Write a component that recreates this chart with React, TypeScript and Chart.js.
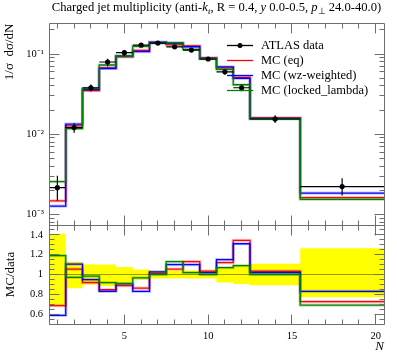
import React, { useEffect, useRef } from 'react';
import { Chart, registerables } from 'chart.js';

Chart.register(...registerables);

const FONT = "'Liberation Serif', 'Times New Roman', serif";
const AXIS_COLOUR = '#6e6e6e';

// ---- binning ----
const binEdges = [0.5, 1.5, 2.5, 3.5, 4.5, 5.5, 6.5, 7.5, 8.5, 9.5, 10.5, 11.5, 12.5, 15.5, 20.5];
const binCentres = [1, 2, 3, 4, 5, 6, 7, 8, 9, 10, 11, 12, 14, 18];

// ---- ATLAS data ----
const atlasData = [2.16e-3, 0.0121, 0.038, 0.0795, 0.104, 0.129, 0.137, 0.123, 0.112, 0.0867, 0.060, 0.038, 0.0155, 2.23e-3];
const atlasErrUp = [8.9e-4, 1.57e-3, 3.8e-3, 8.0e-3, 7.8e-3, 6.5e-3, 5.5e-3, 4.9e-3, 4.5e-3, 3.5e-3, 4.5e-3, 3.4e-3, 1.7e-3, 5.9e-4];
const atlasErrDown = [6.9e-4, 1.69e-3, 3.8e-3, 9.5e-3, 1.04e-2, 6.5e-3, 5.5e-3, 4.9e-3, 4.5e-3, 3.5e-3, 4.8e-3, 3.6e-3, 1.7e-3, 5.1e-4];

// ---- MC predictions ----
const mcEq = [1.48e-3, 0.01275, 0.03488, 0.06726, 0.09225, 0.1113, 0.1384, 0.1296, 0.1266, 0.0896, 0.0672, 0.0511, 0.01603, 1.62e-3];
const mcWz = [1.27e-3, 0.01337, 0.03606, 0.06599, 0.09443, 0.1071, 0.1407, 0.1353, 0.1232, 0.0884, 0.069, 0.0498, 0.01581, 1.85e-3];
const mcLocked = [2.57e-3, 0.01174, 0.03735, 0.07298, 0.09443, 0.1245, 0.137, 0.139, 0.1142, 0.0867, 0.0642, 0.0414, 0.0155, 1.54e-3];

const seriesLabels = ['ATLAS data', 'MC (eq)', 'MC (wz-weighted)', 'MC (locked_lambda)'];
const seriesColours = ['#000000', '#ff0000', '#0000ff', '#008000'];
const seriesBandColours = ['rgba(0,0,0,0)', 'rgba(255,0,0,0.22)', 'rgba(0,0,255,0.22)', 'rgba(0,128,0,0.22)'];

// ---- ticks ----
const xTickValues = [1, 2, 3, 4, 5, 6, 7, 8, 9, 10, 11, 12, 13, 14, 15, 16, 17, 18, 19, 20];
const xLabelValues = [5, 10, 15, 20];
const xLabelTexts = ['5', '10', '15', '20'];

const mainYTickValues = [8e-4, 9e-4, 1e-3, 2e-3, 3e-3, 4e-3, 5e-3, 6e-3, 7e-3, 8e-3, 9e-3, 1e-2, 2e-2, 3e-2, 4e-2, 5e-2, 6e-2, 7e-2, 8e-2, 9e-2, 1e-1, 2e-1];
const mainYLabelValues = [1e-3, 1e-2, 1e-1];
const mainYLabelTexts = ['10\u207B\u00B3', '10\u207B\u00B2', '10\u207B\u00B9'];

const ratioYTickValues = [0.5, 0.55, 0.6, 0.65, 0.7, 0.75, 0.8, 0.85, 0.9, 0.95, 1.0, 1.05, 1.1, 1.15, 1.2, 1.25, 1.3, 1.35, 1.4, 1.45, 1.5];
const ratioYLabelValues = [0.6, 0.8, 1.0, 1.2, 1.4];
const ratioYLabelTexts = ['0.6', '0.8', '1', '1.2', '1.4'];

const findLabel = (v: number, vals: number[], texts: string[]) => {
  const i = vals.findIndex((lv) => Math.abs(v - lv) <= Math.abs(lv) * 1e-6);
  return i >= 0 ? texts[i] : '';
};

const stepPoints = (vals: number[]) =>
  binEdges.map((e, i) => ({ x: e, y: vals[Math.min(i, vals.length - 1)] }));

const ratioOf = (vals: number[]) => vals.map((v, i) => v / atlasData[i]);

function axesPlugin(yMajor: number[], yTicks: number[], drawLegend: boolean) {
  return {
    id: 'rivetAxes',
    afterDraw(chart: any) {
      const { ctx, chartArea: a, scales } = chart;
      const xs = scales.x;
      const ys = scales.y;
      const L = Math.floor(a.left) + 0.5;
      const R = Math.floor(a.right) + 0.5;
      const T = Math.floor(a.top) + 0.5;
      const B = Math.floor(a.bottom) + 0.5;
      ctx.save();
      ctx.strokeStyle = AXIS_COLOUR;
      ctx.lineWidth = 1;
      ctx.beginPath();
      ctx.rect(L, T, R - L, B - T);
      xTickValues.forEach((v) => {
        const px = Math.floor(xs.getPixelForValue(v)) + 0.5;
        const len = xLabelValues.includes(v) ? 10 : 5;
        ctx.moveTo(px, B);
        ctx.lineTo(px, B - len);
        ctx.moveTo(px, T);
        ctx.lineTo(px, T + len);
      });
      yTicks.forEach((v) => {
        const py = Math.floor(ys.getPixelForValue(v)) + 0.5;
        if (py < T - 0.1 || py > B + 0.1) return;
        const major = yMajor.some((m) => Math.abs(m - v) <= Math.abs(m) * 1e-6);
        const len = major ? 10 : 5;
        ctx.moveTo(L, py);
        ctx.lineTo(L + len, py);
        ctx.moveTo(R, py);
        ctx.lineTo(R - len, py);
      });
      ctx.stroke();

      if (drawLegend) {
        const lx0 = a.right - 157;
        const lx1 = a.right - 131;
        const tx = a.right - 123;
        const y0 = a.top + 21;
        const dy = 15;
        ctx.font = `12.5px ${FONT}`;
        ctx.textBaseline = 'middle';
        ctx.textAlign = 'left';
        seriesLabels.forEach((lab, i) => {
          const y = Math.round(y0 + i * dy) + 0.5;
          ctx.strokeStyle = seriesColours[i];
          ctx.lineWidth = 1.3;
          ctx.beginPath();
          ctx.moveTo(lx0, y);
          ctx.lineTo(lx1, y);
          ctx.stroke();
          if (i === 0) {
            ctx.fillStyle = '#000';
            ctx.beginPath();
            ctx.arc((lx0 + lx1) / 2, y, 2.5, 0, Math.PI * 2);
            ctx.fill();
          }
          ctx.fillStyle = '#000';
          ctx.fillText(lab, tx, y);
        });
      }
      ctx.restore();
    },
  };
}

const errorBarPlugin = {
  id: 'dataErrors',
  afterDatasetsDraw(chart: any) {
    const { ctx, scales } = chart;
    const xs = scales.x;
    const ys = scales.y;
    ctx.save();
    ctx.strokeStyle = '#000';
    ctx.lineWidth = 1.2;
    ctx.beginPath();
    atlasData.forEach((d, i) => {
      const xl = xs.getPixelForValue(binEdges[i]);
      const xr = xs.getPixelForValue(binEdges[i + 1]);
      const xc = xs.getPixelForValue(binCentres[i]);
      const yc = ys.getPixelForValue(d);
      const yu = ys.getPixelForValue(d + atlasErrUp[i]);
      const yd = ys.getPixelForValue(d - atlasErrDown[i]);
      ctx.moveTo(xl, yc);
      ctx.lineTo(xr, yc);
      ctx.moveTo(xc, yu);
      ctx.lineTo(xc, yd);
    });
    ctx.stroke();
    ctx.fillStyle = '#000';
    atlasData.forEach((d, i) => {
      ctx.beginPath();
      ctx.arc(xs.getPixelForValue(binCentres[i]), ys.getPixelForValue(d), 2.6, 0, Math.PI * 2);
      ctx.fill();
    });
    ctx.restore();
  },
};

const mcLine = (label: string, colour: string, data: any[], order: number, width = 1.3) => ({
  label,
  data,
  borderColor: colour,
  backgroundColor: colour,
  borderWidth: width,
  pointRadius: 0,
  stepped: 'before' as const,
  fill: false,
  order,
});

const mcWithBand = (idx: number, vals: number[], order: number) => [
  mcLine(seriesLabels[idx], seriesColours[idx], stepPoints(vals), order, 1.3),
  mcLine(seriesLabels[idx] + ' band', seriesBandColours[idx], stepPoints(vals), order + 0.5, 3.2),
];

const noPad = (s: any) => {
  s.paddingTop = 0;
  s.paddingBottom = 0;
  s.paddingLeft = 0;
  s.paddingRight = 0;
};

export default function App() {
  const mainRef = useRef<HTMLCanvasElement | null>(null);
  const ratioRef = useRef<HTMLCanvasElement | null>(null);

  useEffect(() => {
    if (!mainRef.current || !ratioRef.current) return;

    const mainChart = new Chart(mainRef.current, {
      type: 'line',
      data: {
        datasets: [
          {
            label: seriesLabels[0],
            data: binCentres.map((x, i) => ({ x, y: atlasData[i] })),
            showLine: false,
            pointRadius: 0,
            borderColor: '#000',
            backgroundColor: '#000',
            order: 0,
          },
          ...mcWithBand(3, mcLocked, 1),
          ...mcWithBand(2, mcWz, 2),
          ...mcWithBand(1, mcEq, 3),
        ] as any,
      },
      options: {
        responsive: false,
        animation: false,
        events: [],
        layout: { padding: { top: 23.5, right: 13, bottom: 1, left: 0 } },
        plugins: { legend: { display: false }, tooltip: { enabled: false }, title: { display: false } },
        scales: {
          x: { type: 'linear', min: 0.5, max: 20.5, display: false },
          y: {
            type: 'logarithmic',
            min: 7.4e-4,
            max: 0.24,
            afterBuildTicks: (s: any) => {
              s.ticks = mainYTickValues.map((v) => ({ value: v }));
            },
            afterFit: (s: any) => {
              s.width = 49;
              noPad(s);
            },
            grid: { display: false, drawTicks: false },
            border: { display: false },
            ticks: {
              autoSkip: false,
              padding: 5,
              color: '#000',
              font: { family: FONT, size: 10.5 },
              callback: (v: any) => findLabel(Number(v), mainYLabelValues, mainYLabelTexts),
            },
            title: {
              display: true,
              text: '1/\u03C3  d\u03C3/dN',
              align: 'end',
              color: '#000',
              font: { family: FONT, size: 13 },
              padding: { top: 2, bottom: 0 },
            },
          },
        },
      } as any,
      plugins: [errorBarPlugin, axesPlugin(mainYLabelValues, mainYTickValues, true)],
    });

    const bandLow = atlasData.map((d, i) => (d - atlasErrDown[i]) / d);
    const bandHigh = atlasData.map((d, i) => (d + atlasErrUp[i]) / d);

    const ratioChart = new Chart(ratioRef.current, {
      type: 'line',
      data: {
        datasets: [
          {
            label: 'band-low',
            data: stepPoints(bandLow),
            borderColor: 'rgba(0,0,0,0)',
            borderWidth: 0,
            pointRadius: 0,
            stepped: 'before',
            fill: false,
            order: 10,
          },
          {
            label: 'band-high',
            data: stepPoints(bandHigh),
            borderColor: 'rgba(0,0,0,0)',
            backgroundColor: '#ffff00',
            borderWidth: 0,
            pointRadius: 0,
            stepped: 'before',
            fill: '-1',
            order: 9,
          },
          {
            label: 'ref',
            data: [
              { x: binEdges[0], y: 1 },
              { x: binEdges[binEdges.length - 1], y: 1 },
            ],
            borderColor: 'rgba(0,0,0,0.4)',
            borderWidth: 1,
            pointRadius: 0,
            fill: false,
            order: 5,
          },
          ...mcWithBand(1, ratioOf(mcEq), 3),
          ...mcWithBand(2, ratioOf(mcWz), 2),
          ...mcWithBand(3, ratioOf(mcLocked), 1),
        ] as any,
      },
      options: {
        responsive: false,
        animation: false,
        events: [],
        layout: { padding: { top: 1, right: 13, bottom: 0, left: 0 } },
        plugins: { legend: { display: false }, tooltip: { enabled: false }, title: { display: false } },
        scales: {
          x: {
            type: 'linear',
            min: 0.5,
            max: 20.5,
            afterBuildTicks: (s: any) => {
              s.ticks = xTickValues.map((v) => ({ value: v }));
            },
            afterFit: (s: any) => {
              s.height = 34;
              noPad(s);
            },
            grid: { display: false, drawTicks: false },
            border: { display: false },
            ticks: {
              autoSkip: false,
              maxRotation: 0,
              padding: 6,
              color: '#000',
              font: { family: FONT, size: 10.5 },
              callback: (v: any) => findLabel(Number(v), xLabelValues, xLabelTexts),
            },
            title: {
              display: true,
              text: 'N',
              align: 'end',
              color: '#000',
              font: { family: FONT, size: 13, style: 'italic' },
              padding: { top: 0, bottom: 4 },
            },
          },
          y: {
            type: 'linear',
            min: 0.5,
            max: 1.5,
            afterBuildTicks: (s: any) => {
              s.ticks = ratioYTickValues.map((v) => ({ value: v }));
            },
            afterFit: (s: any) => {
              s.width = 49;
              noPad(s);
            },
            grid: { display: false, drawTicks: false },
            border: { display: false },
            ticks: {
              autoSkip: false,
              padding: 6,
              color: '#000',
              font: { family: FONT, size: 10.5 },
              callback: (v: any) => findLabel(Number(v), ratioYLabelValues, ratioYLabelTexts),
            },
            title: {
              display: true,
              text: 'MC/data',
              align: 'center',
              color: '#000',
              font: { family: FONT, size: 13 },
              padding: { top: 3, bottom: 0 },
            },
          },
        },
      } as any,
      plugins: [axesPlugin(ratioYLabelValues, ratioYTickValues, false)],
    });

    return () => {
      mainChart.destroy();
      ratioChart.destroy();
    };
  }, []);

  const subStyle: React.CSSProperties = { fontSize: '0.72em', position: 'relative', top: '0.3em', verticalAlign: 'baseline' };

  return (
    <div style={{ position: 'fixed', left: 0, top: 0, width: 397, height: 358, background: '#fff' }}>
      <div
        style={{
          position: 'absolute',
          left: 49,
          width: 335,
          top: -1,
          textAlign: 'center',
          fontFamily: FONT,
          fontSize: 12.6,
          lineHeight: '16px',
          whiteSpace: 'nowrap',
          color: '#000',
        }}
      >
        Charged jet multiplicity (anti-<i>k</i>
        <span style={{ ...subStyle, fontStyle: 'italic' }}>t</span>, R = 0.4, <i>y</i> 0.0-0.5, <i>p</i>
        <span style={subStyle}>⊥</span> 24.0-40.0)
      </div>
      <canvas ref={mainRef} width={397} height={226} style={{ position: 'absolute', left: 0, top: 0 }} />
      <canvas ref={ratioRef} width={397} height={134} style={{ position: 'absolute', left: 0, top: 224 }} />
    </div>
  );
}
